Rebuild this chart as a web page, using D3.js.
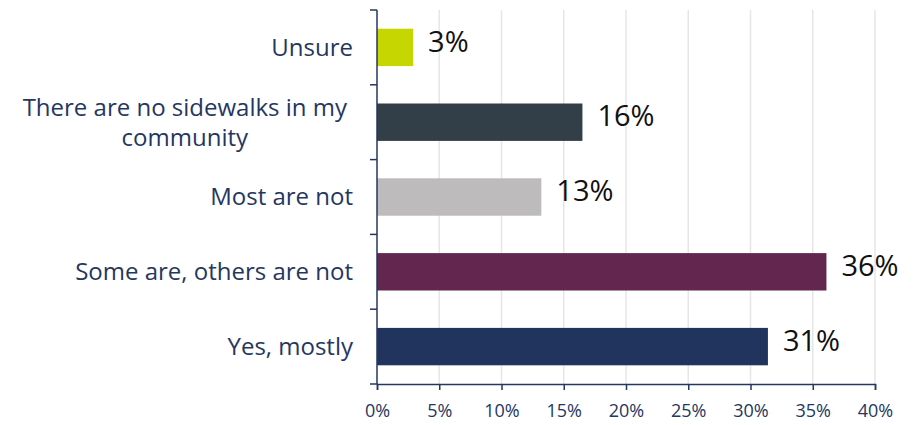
<!DOCTYPE html>
<html>
<head>
<meta charset="utf-8">
<script src="https://cdn.jsdelivr.net/npm/d3@7"></script>
<style>
  body { margin: 0; background: #fff; }
  text { font-family: "Open Sans", sans-serif; }
</style>
</head>
<body>
<script>
var width = 920,
    height = 425;

// data, top to bottom
var categories = ["Unsure", "There are no sidewalks in my community", "Most are not", "Some are, others are not", "Yes, mostly"];
var values = [2.9, 16.5, 13.2, 36.1, 31.4];
var labels = ["3%", "16%", "13%", "36%", "31%"];
var colors = ["#c5d600", "#323e48", "#bdbbbc", "#63264f", "#21345e"];
var xTicks = [0, 5, 10, 15, 20, 25, 30, 35, 40];

var margin = {top: 10, right: 45, bottom: 41, left: 377};

var svg = d3.select("body")
    .append("svg")
    .attr("width", width)
    .attr("height", height);

var x = d3.scaleLinear()
    .domain([0, 40])
    .range([margin.left, width - margin.right]);

var y = d3.scaleBand()
    .domain(categories)
    .range([margin.top, height - margin.bottom])
    .paddingInner(0.5)
    .paddingOuter(0.25);

var navy = "#253760";

// gridlines
svg.append("g")
    .selectAll("line")
    .data(xTicks.slice(1))
    .enter().append("line")
    .attr("x1", function (d) { return x(d); })
    .attr("x2", function (d) { return x(d); })
    .attr("y1", margin.top)
    .attr("y2", height - margin.bottom)
    .style("stroke", "#e6e6e6")
    .style("stroke-width", 1.5);

// bars
svg.append("g")
    .selectAll("rect")
    .data(categories)
    .enter().append("rect")
    .attr("x", x(0))
    .attr("y", function (d) { return y(d); })
    .attr("width", function (d, i) { return x(values[i]) - x(0); })
    .attr("height", y.bandwidth())
    .style("fill", function (d, i) { return colors[i]; });

// value labels
svg.append("g")
    .selectAll("text")
    .data(categories)
    .enter().append("text")
    .attr("x", function (d, i) { return x(values[i]) + 15; })
    .attr("y", function (d) { return y(d) + y.bandwidth() / 2 - 6; })
    .attr("dy", "0.35em")
    .style("font-size", "29px")
    .style("fill", "#111")
    .text(function (d, i) { return labels[i]; });

// y axis
var yAxisG = svg.append("g");
yAxisG.append("line")
    .attr("x1", x(0)).attr("x2", x(0))
    .attr("y1", margin.top).attr("y2", height - margin.bottom)
    .style("stroke", navy).style("stroke-width", 1.5);
yAxisG.selectAll(".tick")
    .data(d3.range(categories.length + 1))
    .enter().append("line")
    .attr("x1", x(0) - 7).attr("x2", x(0))
    .attr("y1", function (i) { return margin.top + i * (height - margin.bottom - margin.top) / categories.length; })
    .attr("y2", function (i) { return margin.top + i * (height - margin.bottom - margin.top) / categories.length; })
    .style("stroke", navy).style("stroke-width", 1.5);

// category labels (wrapped like the original)
var wrapped = {
    "There are no sidewalks in my community": ["There are no sidewalks in my", "community"]
};
categories.forEach(function (c) {
    var lines = wrapped[c] || [c];
    var t = svg.append("text")
        .style("font-size", "24px")
        .style("fill", navy);
    var cy = y(c) + y.bandwidth() / 2;
    lines.forEach(function (l, j) {
        t.append("tspan")
            .attr("y", cy + (j - (lines.length - 1) / 2) * 30)
            .attr("dy", "0.35em")
            .text(l);
    });
    var spans = t.selectAll("tspan").nodes();
    var maxW = d3.max(spans, function (s) { return s.getComputedTextLength(); });
    var right = x(0) - 24;
    if (lines.length > 1) {
        t.attr("text-anchor", "middle");
        t.selectAll("tspan").attr("x", right - 6 - maxW / 2);
    } else {
        t.attr("text-anchor", "end");
        t.selectAll("tspan").attr("x", right);
    }
});

// x axis
var xAxis = d3.axisBottom(x)
    .tickValues(xTicks)
    .tickSize(6)
    .tickFormat(function (d) { return d + "%"; });

var xAxisG = svg.append("g")
    .attr("transform", "translate(0," + (height - margin.bottom) + ")")
    .call(xAxis);
xAxisG.select(".domain").style("stroke", navy).style("stroke-width", 1.5);
xAxisG.selectAll(".tick line").style("stroke", navy).style("stroke-width", 1.5);
xAxisG.selectAll(".tick text")
    .attr("y", 20)
    .style("font-size", "18px")
    .style("font-family", "Open Sans, sans-serif")
    .style("fill", navy);
</script>
</body>
</html>
